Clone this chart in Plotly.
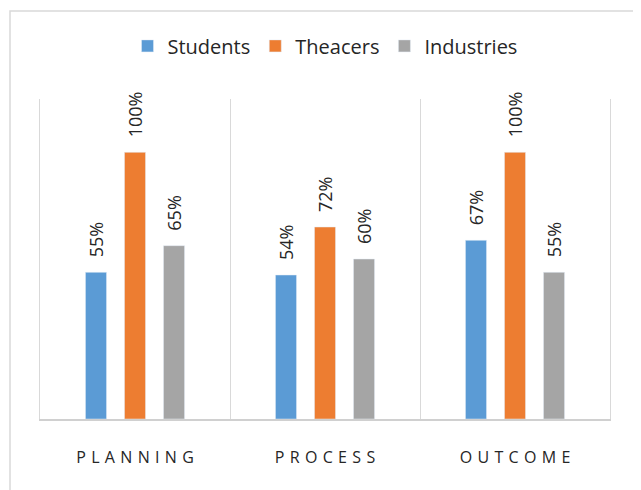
import plotly.graph_objects as go

categories = ["PLANNING", "PROCESS", "OUTCOME"]
students = [55, 54, 67]
teachers = [100, 72, 100]
industries = [65, 60, 55]
series_names = ["Students", "Theacers", "Industries"]
colors = ["#5B9BD5", "#ED7D31", "#A5A5A5"]

tick_labels = ["\u2004".join(list(c)) for c in categories]

fig = go.Figure()
for name, vals, col in zip(series_names, [students, teachers, industries], colors):
    fig.add_trace(go.Bar(
        x=categories, y=vals, name=name, marker_color=col,
        texttemplate="\u2002\u2009%{y}%", textposition="outside", textangle=-90,
        textfont=dict(size=18, color="#262626"), cliponaxis=False,
    ))

fig.update_layout(
    width=641, height=490,
    margin=dict(l=32, r=39, t=91, b=79, autoexpand=False),
    paper_bgcolor="white", plot_bgcolor="white",
    barmode="group", bargap=0.384, bargroupgap=0.46,
    font=dict(family="Open Sans, Liberation Sans, sans-serif", color="#404040"),
    legend=dict(orientation="h", x=0.5, xanchor="center", y=1.166, yanchor="middle",
                font=dict(size=20, color="#262626"), bgcolor="rgba(0,0,0,0)",
                traceorder="normal", itemwidth=30),
    showlegend=True,
    uniformtext=dict(mode="show", minsize=18),
)
fig.update_xaxes(
    type="category", tickmode="array", tickvals=categories, ticktext=tick_labels,
    tickson="boundaries", showgrid=True, gridcolor="#d9d9d9", gridwidth=1,
    showline=True, linecolor="#d0d0d0", linewidth=1.5, ticks="",
    tickfont=dict(size=16, color="#262626"), ticklabelstandoff=23,
    range=[-0.5, 2.5],
)
fig.update_yaxes(range=[0, 120], showgrid=False, showticklabels=False, zeroline=False,
                 showline=True, mirror=True, linecolor="#d9d9d9", linewidth=1)
fig.add_shape(type="rect", xref="paper", yref="paper",
              x0=-30/570, x1=600/570, y0=-85/320, y1=1+88/320,
              line=dict(color="#d9d9d9", width=1.5), fillcolor="rgba(0,0,0,0)", layer="below")
fig.write_html("out.html")
